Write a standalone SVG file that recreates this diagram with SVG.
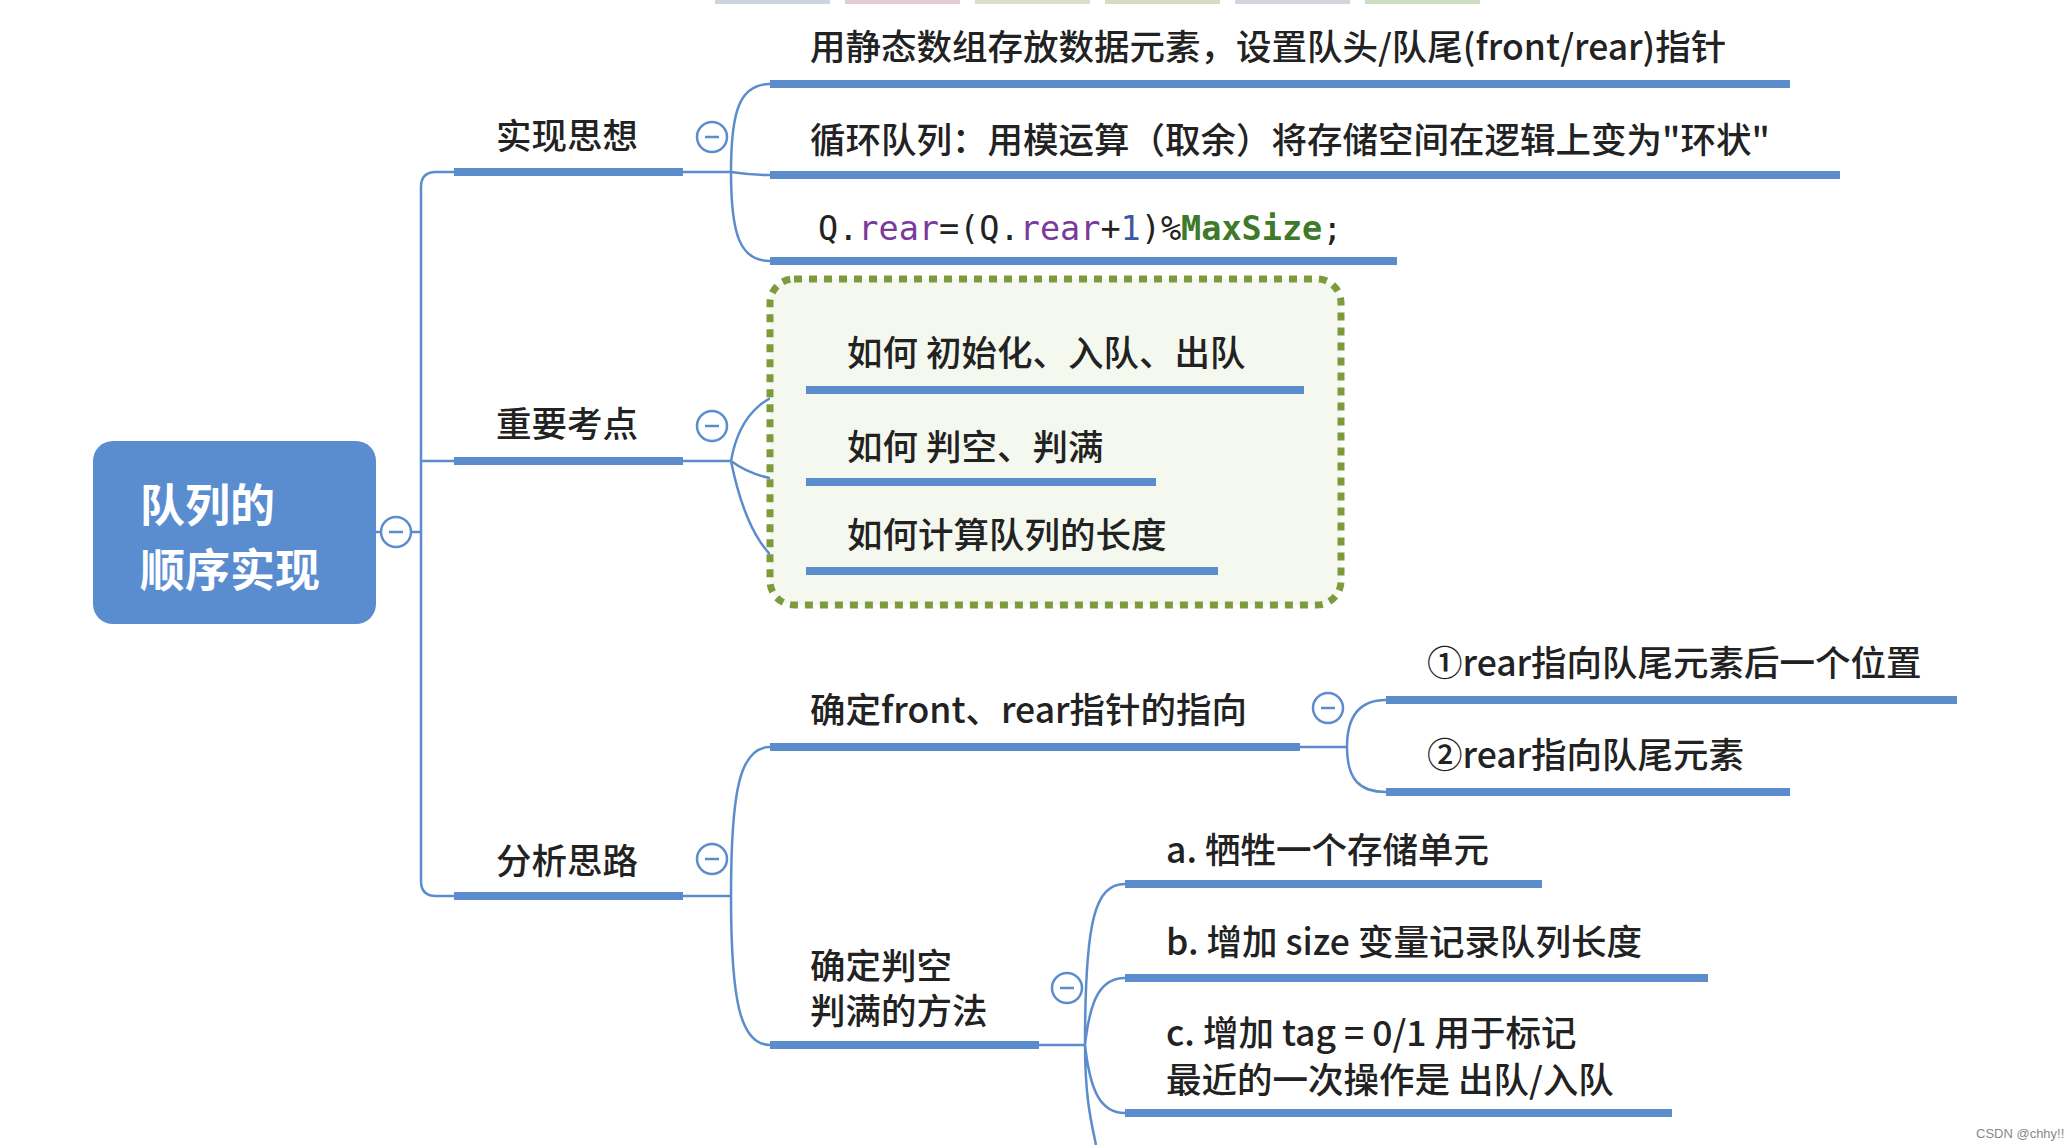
<svg xmlns="http://www.w3.org/2000/svg" width="2065" height="1145" viewBox="0 0 2065 1145">
<style>
.t{font-family:"Noto Sans CJK SC","Liberation Sans",sans-serif;font-size:35.5px;font-weight:500;fill:#222}
.u{stroke:#5b8dcc;stroke-width:8;fill:none}
.c{stroke:#5b8dcc;stroke-width:2.5;fill:none}
.k{fill:#fff;stroke:#5b8dcc;stroke-width:2.5}
.m{stroke:#5b8dcc;stroke-width:2.5}
.code{font-family:"DejaVu Sans Mono","Liberation Mono",monospace;font-size:33.5px;fill:#222}
</style>
<rect width="2065" height="1145" fill="#fff"/>
<g fill-opacity="0.5"><rect x="715" y="0" width="115" height="4" fill="#9ab"/><rect x="845" y="0" width="115" height="4" fill="#c9a"/><rect x="975" y="0" width="115" height="4" fill="#bb9"/><rect x="1105" y="0" width="115" height="4" fill="#ab8"/><rect x="1235" y="0" width="115" height="4" fill="#aab"/><rect x="1365" y="0" width="115" height="4" fill="#9b8"/></g>
<g id="connectors">
<path class="c" d="M376,532 H421 M454,172 H436 Q421,172 421,187 V881 Q421,896 436,896 H454 M421,461 H454"/>
<path class="c" d="M683,172 H731 M731,172 C731,110 740,84 770,84 M731,172 Q750,175 770,175 M731,172 C731,235 740,261 770,261"/>
<path class="c" d="M683,461 H731 M731,461 C740,410 770,390 806,390 M731,461 C750,475 775,482 806,482 M731,461 C745,530 770,571 806,571"/>
<path class="c" d="M683,896 H731 M731,896 C731,790 740,747 770,747 M731,896 C731,1000 740,1045 770,1045"/>
<path class="c" d="M1300,747 H1347 M1347,747 C1347,715 1360,700 1386,700 M1347,747 C1347,780 1360,792 1386,792"/>
<path class="c" d="M1039,1045 H1085 M1085,1045 C1085,920 1095,884 1125,884 M1085,1045 C1090,1000 1100,978 1125,978 M1085,1045 C1090,1090 1100,1113 1125,1113 M1085,1045 C1085,1100 1092,1125 1096,1145"/>
</g>
<g id="root">
<rect x="93" y="441" width="283" height="183" rx="20" fill="#5a8dcf"/>
<text x="140" y="522" font-family="Noto Sans CJK SC,sans-serif" font-size="45" font-weight="bold" fill="#fff">队列的</text>
<text x="140" y="587" font-family="Noto Sans CJK SC,sans-serif" font-size="45" font-weight="bold" fill="#fff">顺序实现</text>
<circle class="k" cx="396" cy="532" r="15"/><line class="m" x1="389" y1="532" x2="403" y2="532"/>
</g>
<g id="b1">
<line class="u" x1="454" y1="172" x2="683" y2="172"/>
<text class="t" x="496" y="149">实现思想</text>
<circle class="k" cx="712" cy="137" r="15"/><line class="m" x1="705" y1="137" x2="719" y2="137"/>
</g>
<g id="b1c1"><line class="u" x1="770" y1="84" x2="1790" y2="84"/><text class="t" x="810" y="60">用静态数组存放数据元素，设置队头/队尾(front/rear)指针</text></g>
<g id="b1c2"><line class="u" x1="770" y1="175" x2="1840" y2="175"/><text class="t" x="810" y="153">循环队列：用模运算（取余）将存储空间在逻辑上变为"环状"</text></g>
<g id="b1c3"><line class="u" x1="770" y1="261" x2="1397" y2="261"/><text class="code" x="818" y="240">Q.<tspan fill="#7a3a9a">rear</tspan>=(Q.<tspan fill="#7a3a9a">rear</tspan>+<tspan fill="#3a5aa0">1</tspan>)%<tspan fill="#3f7a2a" font-weight="bold">MaxSize</tspan>;</text></g>
<g id="b2">
<rect x="770" y="279" width="571" height="326" rx="24" fill="#f4f8ee" stroke="#7d9b3c" stroke-width="7" stroke-dasharray="8,7"/>
<line class="u" x1="454" y1="461" x2="683" y2="461"/>
<text class="t" x="496" y="437">重要考点</text>
<circle class="k" cx="712" cy="426" r="15"/><line class="m" x1="705" y1="426" x2="719" y2="426"/>
</g>
<g id="b2c1"><line class="u" x1="806" y1="390" x2="1304" y2="390"/><text class="t" x="847" y="366">如何 初始化、入队、出队</text></g>
<g id="b2c2"><line class="u" x1="806" y1="482" x2="1156" y2="482"/><text class="t" x="847" y="460">如何 判空、判满</text></g>
<g id="b2c3"><line class="u" x1="806" y1="571" x2="1218" y2="571"/><text class="t" x="847" y="548">如何计算队列的长度</text></g>
<g id="b3">
<line class="u" x1="454" y1="896" x2="683" y2="896"/>
<text class="t" x="496" y="874">分析思路</text>
<circle class="k" cx="712" cy="859" r="15"/><line class="m" x1="705" y1="859" x2="719" y2="859"/>
</g>
<g id="b3c1">
<line class="u" x1="770" y1="747" x2="1300" y2="747"/>
<text class="t" x="810" y="723">确定front、rear指针的指向</text>
<circle class="k" cx="1328" cy="708" r="15"/><line class="m" x1="1321" y1="708" x2="1335" y2="708"/>
</g>
<g id="b3c1a"><line class="u" x1="1386" y1="700" x2="1957" y2="700"/><text class="t" x="1427" y="676">①rear指向队尾元素后一个位置</text></g>
<g id="b3c1b"><line class="u" x1="1386" y1="792" x2="1790" y2="792"/><text class="t" x="1427" y="768">②rear指向队尾元素</text></g>
<g id="b3c2">
<line class="u" x1="770" y1="1045" x2="1039" y2="1045"/>
<text class="t" x="810" y="979" font-size="33">确定判空</text><text class="t" x="810" y="1024" font-size="33">判满的方法</text>
<circle class="k" cx="1067" cy="988" r="15"/><line class="m" x1="1060" y1="988" x2="1074" y2="988"/>
</g>
<g id="b3c2a"><line class="u" x1="1125" y1="884" x2="1542" y2="884"/><text class="t" x="1166" y="863">a. 牺牲一个存储单元</text></g>
<g id="b3c2b"><line class="u" x1="1125" y1="978" x2="1708" y2="978"/><text class="t" x="1166" y="955">b. 增加 size 变量记录队列长度</text></g>
<g id="b3c2c"><line class="u" x1="1125" y1="1113" x2="1672" y2="1113"/><text class="t" x="1166" y="1046">c. 增加 tag = 0/1 用于标记</text><text class="t" x="1166" y="1093">最近的一次操作是 出队/入队</text></g>
<text x="1976" y="1138" font-family="Liberation Sans,sans-serif" font-size="13" fill="#888">CSDN @chhy!!!</text>
</svg>
